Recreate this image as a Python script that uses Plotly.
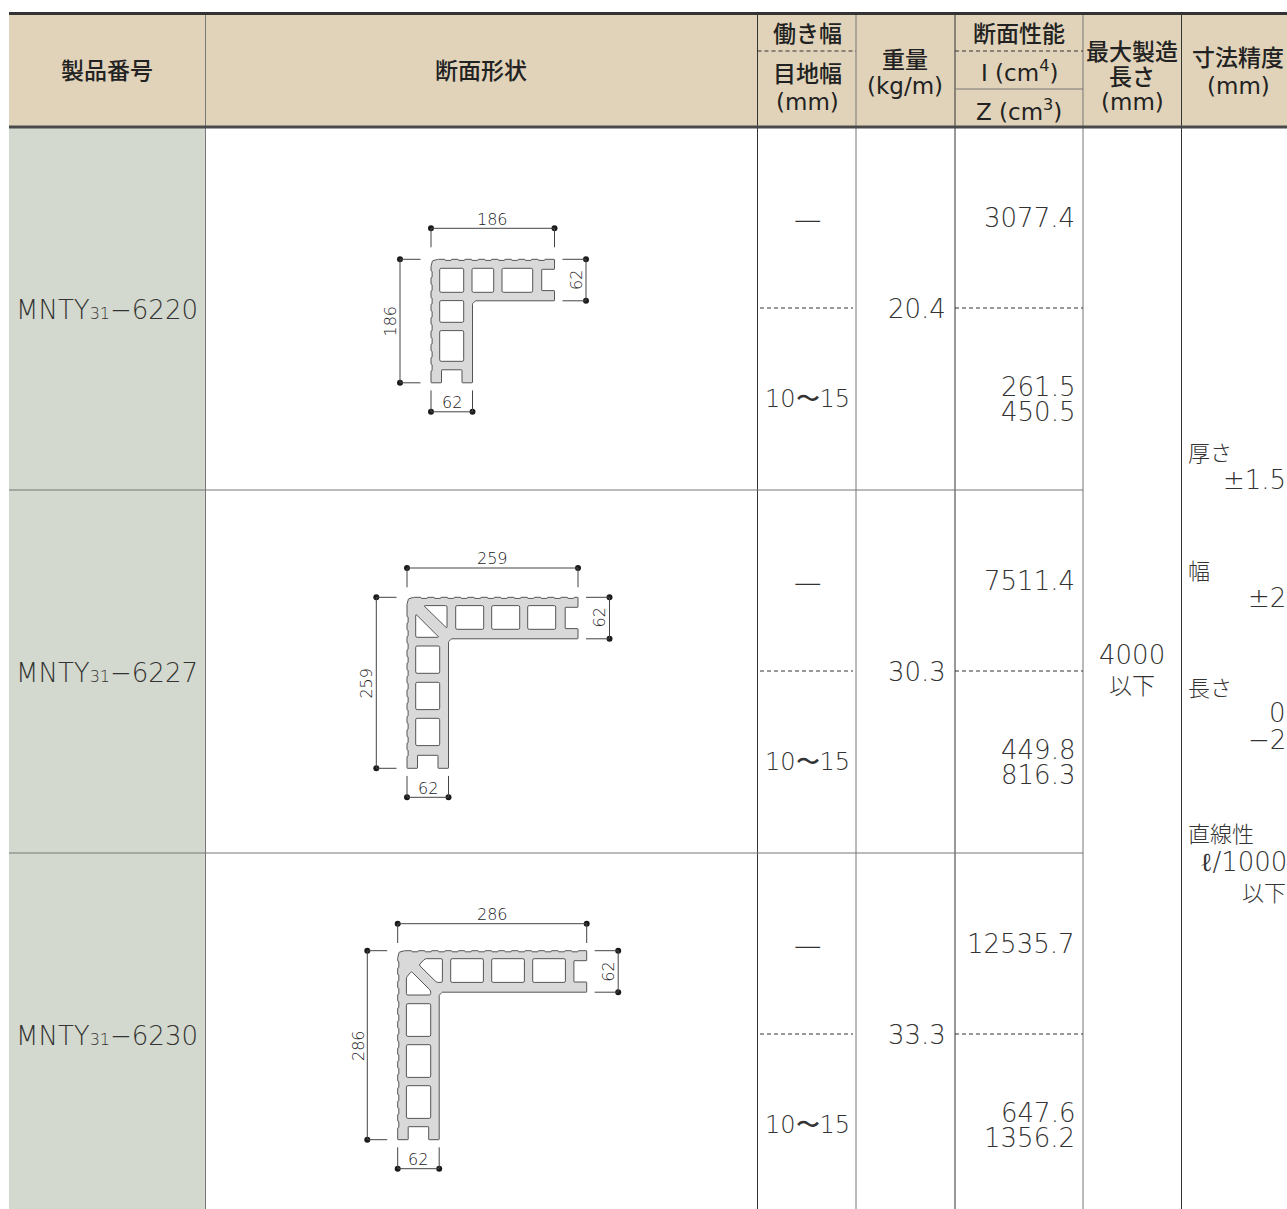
import plotly.graph_objects as go

# ---------- table content ----------
product_codes = ["6220", "6227", "6230"]
product_prefix = "MNTY"
product_sub = "31"
weights = ["20.4", "30.3", "33.3"]
work_width = "—"
joint_width = "10〜15"
inertia_top = ["3077.4", "7511.4", "12535.7"]
inertia_mid = ["261.5", "449.8", "647.6"]
modulus = ["450.5", "816.3", "1356.2"]
section_sizes = ["186", "259", "286"]
flange_size = "62"
max_length = ["4000", "以下"]

# ---------- section drawing geometry (pixels, relative to outer corner) ----------
corners = [(431.0, 259.3), (407.0, 597.3), (397.7, 950.7)]
spans = [123.5, 171.0, 189.0]
top_off = [31, 29.3, 27]
top_ext = [12, 10, 7.7]
left_off = [31, 30.7, 30.4]
label_top = [40, 38.5, 36]
T = 41.5
rect_h = [[(8.7, 32.7), (41, 62.7), (71, 101.7)],
          [(48.7, 76.7), (84.7, 112.7), (120.7, 148.7)],
          [(53, 85.7), (94, 126.7), (135, 167.7)]]
rect_v = [[(41.3, 63), (71.3, 102)],
          [(48.7, 76), (85, 112.3), (121, 148.3)],
          [(53, 85.7), (94, 126.7), (135, 167.7)]]
hole_band = [(9, 33), (8.3, 32), (8, 31.7)]
v_band = [(8.7, 32.7), (8.7, 32.7), (8.7, 33)]
poly_holes = [[],
              [[(16.7, 8.3), (40, 8.3), (40, 31)], [(8.7, 16.7), (32, 40), (8.7, 40)]],
              [[(21.3, 14.3), (27.3, 8), (44.7, 8), (44.7, 31.7), (39, 31.7)],
               [(13.7, 20.7), (33, 40), (33, 44.3), (8.7, 44.3), (8.7, 26.7)]]]

# ---------- colours ----------
INK = "#333333"
HEAD = "#E0D3B9"
SIDE = "#D3D9CE"
GRID = "#777777"
DARK = "#333333"
NUM_FONT = "DejaVu Sans ExtraLight, DejaVu Sans"
JP_FONT = "Noto Sans CJK JP"

shapes, notes = [], []
dots_x, dots_y = [], []


def rect(x0, y0, x1, y1, fill):
    shapes.append(dict(type="rect", x0=x0, y0=y0, x1=x1, y1=y1, fillcolor=fill,
                       line=dict(width=0), layer="below"))


def line(x0, y0, x1, y1, color=GRID, width=1.0, dash="solid"):
    shapes.append(dict(type="line", x0=x0, y0=y0, x1=x1, y1=y1,
                       line=dict(color=color, width=width, dash=dash)))


def text(x, y, s, size=26, anchor="center", font=NUM_FONT, weight=300, color=INK, angle=0):
    if font == JP_FONT:
        y -= 1.5
    notes.append(dict(x=x, y=y, text=s, showarrow=False, xanchor=anchor, yanchor="middle",
                      textangle=angle, align="center", borderpad=0, borderwidth=0,
                      font=dict(family=font, size=size, weight=weight, color=color)))


def rounded(pts, r):
    out = []
    n = len(pts)
    for i in range(n):
        px, py = pts[i - 1]
        cx, cy = pts[i]
        nx, ny = pts[(i + 1) % n]
        d1 = max(((cx - px) ** 2 + (cy - py) ** 2) ** .5, 1e-6)
        d2 = max(((cx - nx) ** 2 + (cy - ny) ** 2) ** .5, 1e-6)
        r1, r2 = min(r, d1 / 2), min(r, d2 / 2)
        ax, ay = cx + (px - cx) * r1 / d1, cy + (py - cy) * r1 / d1
        bx, by = cx + (nx - cx) * r2 / d2, cy + (ny - cy) * r2 / d2
        out.append(("M" if i == 0 else "L") + f"{ax:.2f},{ay:.2f}")
        out.append(f"Q{cx:.2f},{cy:.2f} {bx:.2f},{by:.2f}")
    return " ".join(out) + " Z"


def outer_outline(W):
    """L outline, grooved on its two outside faces, with end slots."""
    period, gap, depth = 13.33, 6.4, 1.1
    pts = [(0, 7), (1.5, 1.5), (7, 0)]
    x = 14.0
    while x + gap < W - 2:
        pts += [(x, 0), (x, depth), (x + gap, depth), (x + gap, 0)]
        x += period
    pts += [(W, 0), (W, 10), (W - 12.8, 10), (W - 12.8, 31.3), (W, 31.3), (W, T),
            (T + 3, T), (T, T + 3), (T, W), (31, W), (31, W - 13), (10.5, W - 13), (10.5, W), (0, W)]
    y = W - 12.0
    while y - gap > 10:
        pts += [(0, y), (depth, y), (depth, y - gap), (0, y - gap)]
        y -= period
    return pts


def section(i):
    cx, cy = corners[i]
    W = spans[i]
    parts = []
    def add(pts, r):
        parts.append(rounded([(cx + a, cy + b) for a, b in pts], r))
    add(outer_outline(W), 0.5)
    y0, y1 = hole_band[i]
    for a, b in rect_h[i]:
        add([(a, y0), (b, y0), (b, y1), (a, y1)], 1.5)
    x0, x1 = v_band[i]
    for a, b in rect_v[i]:
        add([(x0, a), (x1, a), (x1, b), (x0, b)], 1.5)
    for poly in poly_holes[i]:
        add(poly, 1.5)
    shapes.append(dict(type="path", path=" ".join(parts), fillcolor="#D9D9D9", fillrule="evenodd",
                       line=dict(color="#444444", width=0.9)))
    # dimensions
    R, B = cx + W, cy + W
    c = "#444444"
    tw = 1.0
    ty = cy - top_off[i]
    line(cx, ty, R, ty, c, tw)
    line(cx, ty, cx, cy - top_ext[i], c, tw)
    line(R, ty, R, cy - top_ext[i], c, tw)
    lx = cx - left_off[i]
    line(lx, cy, lx, B, c, tw)
    line(lx, cy, cx - 10.5, cy, c, tw)
    line(lx, B, cx - 10.5, B, c, tw)
    rx = R + 31.5
    line(rx, cy, rx, cy + T, c, tw)
    line(R + 8, cy, rx, cy, c, tw)
    line(R + 8, cy + T, rx, cy + T, c, tw)
    by = B + 29
    line(cx, by, cx + T, by, c, tw)
    line(cx, B + 7.6, cx, by, c, tw)
    line(cx + T, B + 7.6, cx + T, by, c, tw)
    dots_x.extend([cx, R, lx, lx, rx, rx, cx, cx + T])
    dots_y.extend([ty, ty, cy, B, cy, cy + T, by, by])
    f = dict(size=16, font=NUM_FONT, weight=300, color="#222222")
    text(cx + W / 2, cy - label_top[i], section_sizes[i], **f)
    text(lx - 9.5, cy + W / 2, section_sizes[i], angle=-90, **f)
    text(rx - 10, cy + T / 2, flange_size, angle=-90, **f)
    text(cx + T / 2, by - 9, flange_size, **f)


# ---------- table frame ----------
TOP, HB, END = 13.5, 127, 1209
rect(9, TOP, 1287, HB, HEAD)
rect(9, HB, 205.5, END, SIDE)
COLS = [205.5, 757.5, 856, 955, 1083, 1181.5]
for x in COLS:
    line(x, TOP, x, END, DARK if x in (757.5, 955, 1181.5) else GRID, 1.0)
for y in (490, 853):
    line(9, y, 1083, y, GRID, 1.0)
for y in (308, 671, 1034):
    line(760, y, 853, y, "#333333", 1, "4px,3px")
    line(955, y, 1083, y, "#333333", 1, "4px,3px")
line(757.5, 51, 856, 51, "#333333", 1, "4px,3px")
line(955, 51, 1083, 51, "#333333", 1, "4px,3px")
line(955, 89, 1083, 89, GRID, 1.2)
line(9, TOP, 1287, TOP, "#333333", 3)
line(9, HB, 1287, HB, "#4a4a4a", 3)

# ---------- header text ----------
hf = dict(size=23, font=JP_FONT, weight=500, color="#222222")
hn = dict(size=23, font="DejaVu Sans", weight=400, color="#222222")
text(107, 70, "製品番号", **hf)
text(481, 70, "断面形状", **hf)
text(807, 33, "働き幅", **hf)
text(807, 73, "目地幅", **hf)
text(807, 102, "(mm)", **hn)
text(905, 59, "重量", **hf)
text(905, 86, "(kg/m)", **hn)
text(1019, 33, "断面性能", **hf)
text(1019, 71, "I (cm<sup>4</sup>)", **hn)
text(1019, 110, "Z (cm<sup>3</sup>)", **hn)
text(1132, 51, "最大製造", **hf)
text(1132, 76, "長さ", **hf)
text(1132, 102, "(mm)", **hn)
text(1238, 57, "寸法精度", **hf)
text(1238, 86, "(mm)", **hn)

# ---------- body text ----------
for i in range(3):
    o = 363 * i
    text(107, 310 + o,
         f"{product_prefix}<span style='font-size:16px'>{product_sub}</span>−{product_codes[i]}", size=26)
    text(807, 218 + o, work_width, size=31, font=JP_FONT, weight=300)
    text(807, 399 + o, joint_width, size=24)
    text(917, 309 + o, weights[i], size=26)
    text(1075, 218 + o, inertia_top[i], anchor="right")
    text(1075, 387 + o, inertia_mid[i], anchor="right")
    text(1075, 412 + o, modulus[i], anchor="right")
    section(i)

text(1132, 655, max_length[0])
text(1132, 685, max_length[1], size=23, font=JP_FONT, weight=300)

jp = dict(size=22, font=JP_FONT, weight=300, anchor="left")
text(1188, 452, "厚さ", **jp)
text(1286, 480, "±1.5", anchor="right")
text(1188, 570, "幅", **jp)
text(1286, 598, "±2", anchor="right")
text(1188, 687, "長さ", **jp)
text(1286, 713, "0", anchor="right")
text(1286, 740, "−2", anchor="right")
text(1188, 833, "直線性", **jp)
text(1287, 862, "ℓ/1000", anchor="right")
text(1286, 892, "以下", size=22, font=JP_FONT, weight=300, anchor="right")

fig = go.Figure(go.Scatter(x=dots_x, y=dots_y, mode="markers", hoverinfo="skip",
                           marker=dict(color="#1a1a1a", size=6, line=dict(width=0))))
fig.update_layout(
    width=1287, height=1209, margin=dict(l=0, r=0, t=0, b=0), showlegend=False,
    paper_bgcolor="white", plot_bgcolor="white", shapes=shapes, annotations=notes,
    xaxis=dict(range=[0, 1287], visible=False, fixedrange=True),
    yaxis=dict(range=[1209, 0], visible=False, fixedrange=True),
)
fig.write_html("out.html", config={"displayModeBar": False},
               post_script="document.body.style.margin='0';")
